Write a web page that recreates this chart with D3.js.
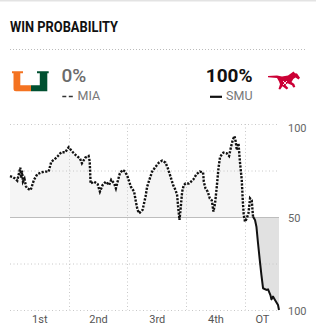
<!DOCTYPE html>
<html>
<head>
<meta charset="utf-8">
<title>Win Probability</title>
<script src="https://cdn.jsdelivr.net/npm/d3@7"></script>
<style>
  body { margin: 0; background: #fff; }
  svg { display: block; font-family: Roboto, "Liberation Sans", sans-serif; }
</style>
</head>
<body>
<script>
// game clock in minutes elapsed (OT stretched to the width ESPN gives it)
var minutes = [0.0, 0.64, 1.2, 1.86, 2.63, 2.88, 3.06, 3.32, 3.70, 4.08, 4.42, 5.28, 6.13, 6.97, 7.99,
  9.01, 9.88, 10.54, 11.41, 12.25, 13.10, 14.12, 14.99, 16.08, 16.93, 17.87, 18.38, 19.22, 20.09,
  20.37, 20.60, 21.52, 22.39, 22.98, 23.67, 24.51, 25.35, 25.86, 26.63, 27.06, 27.50, 28.08, 28.77,
  29.44, 30.05, 30.89, 31.73, 32.17, 32.60, 33.01, 33.88, 34.64, 35.05, 35.74, 36.33, 37.20, 38.04,
  38.88, 39.75, 40.34, 41.03, 41.69, 42.30, 42.71, 42.97, 43.32, 43.58, 43.99, 44.42, 44.86, 45.70,
  46.80, 47.66, 48.51, 49.35, 49.53, 49.96, 50.55, 51.06, 51.57, 52.00, 52.41, 52.85, 53.28, 53.69,
  54.56, 55.40, 55.99, 56.50, 56.93, 57.37, 57.70, 57.96, 58.39, 58.80, 59.23, 59.49, 59.74, 60.07,
  60.51, 60.94, 61.35, 61.78, 62.11, 62.62, 62.98, 63.39, 63.83, 64.26, 64.67, 65.54, 65.95, 66.56,
  66.81, 67.22, 67.65, 68.50, 68.75];
// Miami win probability (%) - SMU is 100 minus this
var miaWinPct = [72, 71.5, 70.8, 69.5, 76.5, 71, 75, 69, 70.5, 66.5, 65.4, 64.5, 70, 73, 74,
  74.4, 74.4, 79.7, 81, 82.8, 84.8, 84.8, 87.5, 84.8, 83, 81.5, 78.9, 81.9, 82.8,
  80, 68, 69, 67.7, 63.6, 67.2, 69, 67.2, 70, 68, 65.4, 69, 73.5, 75.3,
  74.4, 71.7, 66.3, 63.6, 58.2, 53.8, 52, 53.8, 61, 66.3, 70.8, 74.4, 77, 79.2,
  80.3, 79.2, 76.2, 71.7, 67.2, 64.5, 61.8, 55.5, 48.4, 53.8, 63.6, 67.2, 68, 68,
  70, 73, 74.4, 74, 69, 65.4, 63.6, 60, 59, 52.9, 57.4, 66.3, 76.2, 82.4,
  84.6, 84.2, 82.8, 87.8, 91.4, 93.5, 90.5, 86, 89.6, 78.9, 70, 59, 51, 47.5,
  49.3, 52, 60, 59, 50.2, 48.4, 44.8, 35.9, 26.9, 18.8, 11.7, 10.8, 11.1, 8,
  5.7, 7.2, 5.7, 2.7, 0];

var periodLabels = ["1st", "2nd", "3rd", "4th", "OT"];
var periodStarts = [0, 15, 30, 45, 60];
var gameEnd = 68.75;
var yTickValues = [100, 50, 0];
var yTickLabels = ["100", "50", "100"];
var gridValues = [100, 75, 25, 0];

var teams = [
  { abbr: "MIA", pct: "0%" },
  { abbr: "SMU", pct: "100%" }
];

var W = 316, H = 336;
var svg = d3.select("body").append("svg").attr("width", W).attr("height", H);

// card top edge
svg.append("rect").attr("x", 0).attr("y", 0).attr("width", W).attr("height", 1.5).attr("fill", "#e3e3e3");

svg.append("text").attr("x", 10).attr("y", 31.7)
  .attr("font-size", 14).attr("font-weight", 700).attr("fill", "#111")
  .attr("textLength", 108).attr("lengthAdjust", "spacingAndGlyphs")
  .text("WIN PROBABILITY");

svg.append("line").attr("x1", 10).attr("x2", 306).attr("y1", 49.5).attr("y2", 49.5)
  .attr("stroke", "#bbb").attr("stroke-width", 1).attr("stroke-dasharray", "1 2");

// ---- header: logos, percentages, legend
var uLogo = svg.append("g").attr("transform", "translate(12,71.3)");
uLogo.append("path").attr("fill", "#f47321")
  .attr("d", "M0,0 H11 V2 H8.3 V14 H19 V20 H4 Q1.5,20 1.5,17.5 V2 H0 Z");
uLogo.append("path").attr("fill", "#005030")
  .attr("d", "M19,14 H27.8 V2 H25 V0 H36.7 V2 H35.3 V20 H19 Z");

var horse = svg.append("g").attr("transform", "translate(268,72)");
horse.append("path").attr("fill", "#cc0035")
  .attr("d", "M0,4 L9,3.4 L14,4.6 L20,3.4 L23.5,1 L25.5,-0.5 L27,1.3 L29,1.5 L32,5.8 L30.5,7.4 L27.5,5.6 L25.3,7 L23.5,10 L26.3,12 L27.3,15 L25.2,15.6 L24,13.2 L19.5,11.3 L17.5,13 L20.3,16 L18.7,17.6 L14.5,14.2 L12.2,17.6 L10.5,17 L12,12.3 L11,9.6 L9,6 L0,5.2 Z");
horse.append("path").attr("stroke", "#fff").attr("stroke-width", 0.9).attr("fill", "none")
  .attr("d", "M15,9 L19,13 M19,9 L15,13");

svg.append("text").attr("x", 61.5).attr("y", 81.7)
  .attr("font-size", 19).attr("font-weight", 500).attr("fill", "#6b6b6b")
  .text(teams[0].pct);
svg.append("text").attr("x", 252.5).attr("y", 81.7).attr("text-anchor", "end")
  .attr("font-size", 19).attr("font-weight", 700).attr("fill", "#111")
  .text(teams[1].pct);

svg.append("line").attr("x1", 62.3).attr("x2", 73).attr("y1", 96.5).attr("y2", 96.5)
  .attr("stroke", "#333").attr("stroke-width", 1.6).attr("stroke-dasharray", "4 2.5");
svg.append("text").attr("x", 77.5).attr("y", 99.6)
  .attr("font-size", 12.5).attr("fill", "#777").text(teams[0].abbr);
svg.append("line").attr("x1", 210).attr("x2", 222).attr("y1", 96.8).attr("y2", 96.8)
  .attr("stroke", "#111").attr("stroke-width", 2.2);
svg.append("text").attr("x", 252.5).attr("y", 99.6).attr("text-anchor", "end")
  .attr("font-size", 12.5).attr("fill", "#777").text(teams[1].abbr);

// ---- chart
var x = d3.scaleLinear().domain([0, gameEnd]).range([10, 279]);
var y = d3.scaleLinear().domain([0, 100]).range([310, 124]);

var data = minutes.map(function(m, i) { return { t: m, v: miaWinPct[i] }; });

var defs = svg.append("defs");
defs.append("clipPath").attr("id", "clipTop").append("rect")
  .attr("x", x(0)).attr("y", y(100)).attr("width", x(gameEnd) - x(0)).attr("height", y(50) - y(100));
defs.append("clipPath").attr("id", "clipBot").append("rect")
  .attr("x", x(0)).attr("y", y(50)).attr("width", x(gameEnd) - x(0)).attr("height", y(0) - y(50));

var area = d3.area().x(function(d) { return x(d.t); })
  .y0(y(50)).y1(function(d) { return y(d.v); });

svg.append("path").datum(data).attr("d", area).attr("fill", "#f5f5f5").attr("clip-path", "url(#clipTop)");
svg.append("path").datum(data).attr("d", area).attr("fill", "#e1e1e1").attr("clip-path", "url(#clipBot)");

// grid
svg.append("g").selectAll("line").data(gridValues).join("line")
  .attr("x1", x(0)).attr("x2", x(gameEnd))
  .attr("y1", function(d) { return y(d) + 0.5; }).attr("y2", function(d) { return y(d) + 0.5; })
  .attr("stroke", "#c8c8c8").attr("stroke-width", 1).attr("stroke-dasharray", "1 2.5");
svg.append("g").selectAll("line").data(periodStarts.slice(1)).join("line")
  .attr("x1", function(d) { return Math.round(x(d)) + 0.5; })
  .attr("x2", function(d) { return Math.round(x(d)) + 0.5; })
  .attr("y1", y(100)).attr("y2", y(0))
  .attr("stroke", "#c8c8c8").attr("stroke-width", 1).attr("stroke-dasharray", "1 2.5");

svg.append("line").attr("x1", x(0)).attr("x2", x(gameEnd))
  .attr("y1", y(50) + 0.5).attr("y2", y(50) + 0.5)
  .attr("stroke", "#bdbdbd").attr("stroke-width", 1);

// y labels on the right
var yAxis = d3.axisRight(y).tickValues(yTickValues).tickSize(0).tickPadding(0)
  .tickFormat(function(d, i) { return yTickLabels[i]; });
var yg = svg.append("g").attr("transform", "translate(288,0.5)").call(yAxis);
yg.select(".domain").remove();
yg.selectAll("text").attr("font-size", 11).attr("fill", "#666").attr("font-family", "Roboto, sans-serif");
// the top label sits just under its gridline
yg.selectAll(".tick").filter(function(d) { return d === 100; })
  .select("text").attr("y", 3);

// period labels
var mids = periodStarts.map(function(s, i) {
  return (s + (i < periodStarts.length - 1 ? periodStarts[i + 1] : gameEnd)) / 2;
});
var xAxis = d3.axisBottom(x).tickValues(mids).tickSize(0).tickPadding(0)
  .tickFormat(function(d, i) { return periodLabels[i]; });
var xg = svg.append("g").attr("transform", "translate(0,315)").call(xAxis);
xg.select(".domain").remove();
xg.selectAll("text").attr("font-size", 11).attr("fill", "#555").attr("font-family", "Roboto, sans-serif");

// win probability line: dotted while Miami leads, solid once SMU takes over for good
var lastAbove = 0;
data.forEach(function(d, i) { if (d.v >= 50) lastAbove = i; });
var line = d3.line().x(function(d) { return x(d.t); }).y(function(d) { return y(d.v); });

svg.append("path").datum(data.slice(0, lastAbove + 1)).attr("d", line)
  .attr("fill", "none").attr("stroke", "#111").attr("stroke-width", 2.4)
  .attr("stroke-dasharray", "2.2 1.4");
svg.append("path").datum(data.slice(lastAbove)).attr("d", line)
  .attr("fill", "none").attr("stroke", "#111").attr("stroke-width", 2)
  .attr("stroke-linejoin", "round");
</script>
</body>
</html>
